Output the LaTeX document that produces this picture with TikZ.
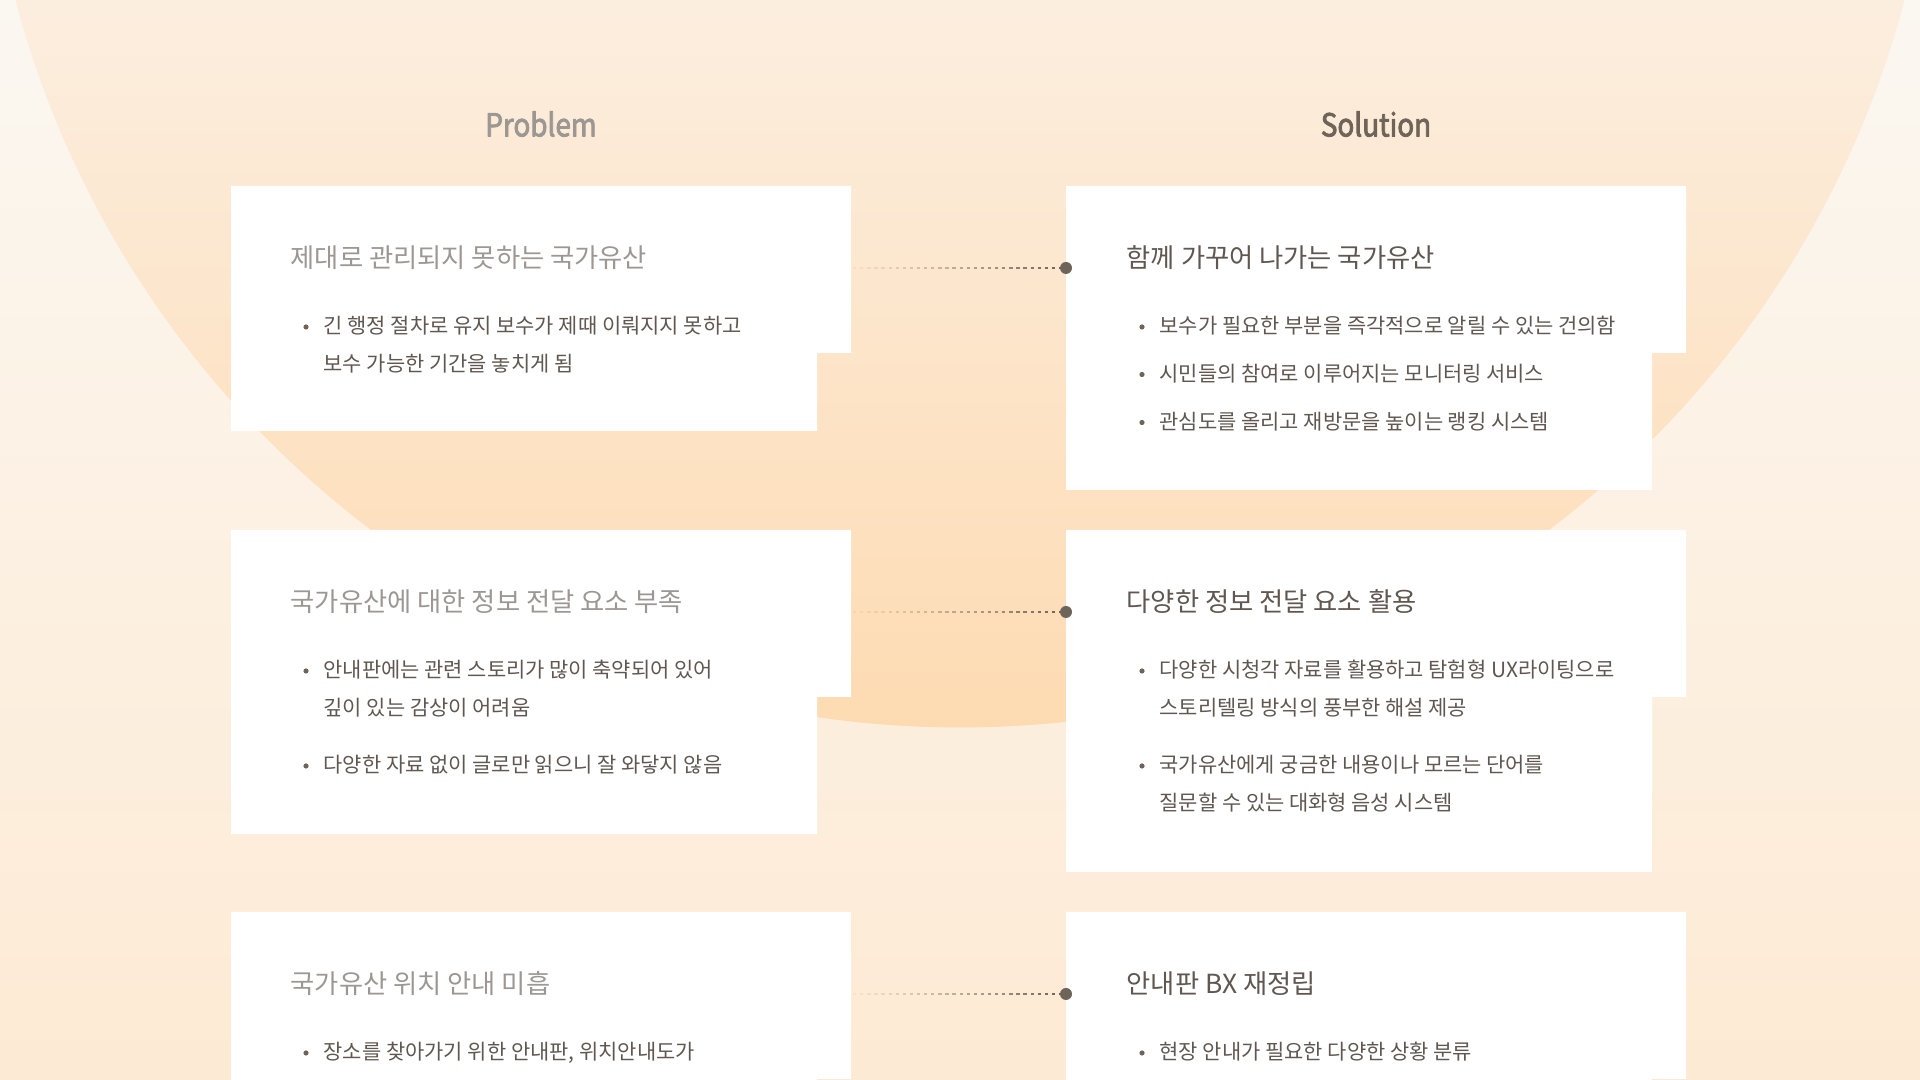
\documentclass[tikz,border=0pt]{standalone}
\usepackage{fontspec}
\setmainfont{Noto Sans CJK KR}
\newfontfamily\headfont[FakeStretch=0.88, FakeBold=2.5]{Noto Sans CJK KR}
\usetikzlibrary{calc}

% colores
\definecolor{bgtop}{HTML}{FBF7F1}
\definecolor{bgbottom}{HTML}{FDEAD4}
\definecolor{suntop}{HTML}{FCEEDF}
\definecolor{sunbottom}{HTML}{FDDBB2}
\definecolor{inkdark}{HTML}{5F5750}
\definecolor{inkgray}{HTML}{9C9793}
\definecolor{inkhead}{HTML}{6E6459}

% tarjeta blanca con escalon abajo a la derecha: x, arriba, abajo
\newcommand{\notchcard}[3]{%
  \fill[white] (#1,#2) -- ++(620,0) -- ++(0,167) -- ++(-34,0) |- (#1,#3) -- cycle;}
% punto de la lista: nodo, distancia de la ultima linea a la primera
\newcommand{\bulletat}[2]{%
  \fill[itemdot] ($(#1.base west)+(-17,-7-#2)$) circle (2.6);}

\begin{document}
\begin{tikzpicture}[x=0.01cm, y=-0.01cm, line join=round]
  % Estilos
  \tikzset{
    headtext/.style={inner sep=0, font=\headfont\fontsize{9pt}{10pt}\selectfont},
    cardtitle/.style={anchor=base west, inner sep=0, font=\fontsize{7.48pt}{9pt}\selectfont},
    itemtext/.style={anchor=base west, inner sep=0, align=left, text=inkdark,
      font=\fontsize{5.95pt}{10.81pt}\selectfont},
    itemdot/.style={fill=inkhead},
    linkdash/.style={line width=0.68pt, draw=inkhead},
  }

  \useasboundingbox (0,0) rectangle (1920,1080);
  \clip (0,0) rectangle (1920,1080);

  % Fondo y circulo
  \shade[top color=bgtop, bottom color=bgbottom] (0,0) rectangle (1920,1080);
  \begin{scope}
    \clip (960,-249) circle (976.5);
    \shade[top color=suntop, bottom color=sunbottom] (0,0) rectangle (1920,728);
  \end{scope}

  % Encabezados
  \node[headtext, text=inkgray] (problem) at (541,124) {Problem};
  \node[headtext, text=inkhead] (solution) at (1376,124) {Solution};

  % Tarjetas
  \notchcard{231}{186}{431}
  \notchcard{1066}{186}{490}
  \notchcard{231}{530}{834}
  \notchcard{1066}{530}{872}
  \notchcard{231}{912}{1120}
  \notchcard{1066}{912}{1120}

  % Fila 1
  \node[cardtitle, text=inkgray] (p1) at (290,268) {제대로 관리되지 못하는 국가유산};
  \node[itemtext] (p1a) at (323,372) {긴 행정 절차로 유지 보수가 제때 이뤄지지 못하고\\보수 가능한 기간을 놓치게 됨};
  \node[cardtitle, text=inkdark] (s1) at (1126,268) {함께 가꾸어 나가는 국가유산};
  \node[itemtext] (s1a) at (1159,334) {보수가 필요한 부분을 즉각적으로 알릴 수 있는 건의함};
  \node[itemtext] (s1b) at (1159,381.5) {시민들의 참여로 이루어지는 모니터링 서비스};
  \node[itemtext] (s1c) at (1159,429.5) {관심도를 올리고 재방문을 높이는 랭킹 시스템};

  % Fila 2
  \node[cardtitle, text=inkgray] (p2) at (290,612) {국가유산에 대한 정보 전달 요소 부족};
  \node[itemtext] (p2a) at (323,716) {안내판에는 관련 스토리가 많이 축약되어 있어\\깊이 있는 감상이 어려움};
  \node[itemtext] (p2b) at (323,773) {다양한 자료 없이 글로만 읽으니 잘 와닿지 않음};
  \node[cardtitle, text=inkdark] (s2) at (1126,612) {다양한 정보 전달 요소 활용};
  \node[itemtext] (s2a) at (1159,716) {다양한 시청각 자료를 활용하고 탐험형 UX라이팅으로\\스토리텔링 방식의 풍부한 해설 제공};
  \node[itemtext] (s2b) at (1159,811) {국가유산에게 궁금한 내용이나 모르는 단어를\\질문할 수 있는 대화형 음성 시스템};

  % Fila 3
  \node[cardtitle, text=inkgray] (p3) at (290,994) {국가유산 위치 안내 미흡};
  \node[itemtext] (p3a) at (323,1060) {장소를 찾아가기 위한 안내판, 위치안내도가};
  \node[cardtitle, text=inkdark] (s3) at (1126,994) {안내판 BX 재정립};
  \node[itemtext] (s3a) at (1159,1060) {현장 안내가 필요한 다양한 상황 분류};

  % Puntos de lista
  \foreach \n/\up in {p1a/38, s1a/0, s1b/0, s1c/0, p2a/38, p2b/0, s2a/38, s2b/38, p3a/0, s3a/0} {
    \bulletat{\n}{\up}
  }

  % Conectores punteados que se desvanecen hacia la izquierda
  \foreach \r/\yy in {1/268, 2/612, 3/994} {
    \coordinate (p\r e) at (853,\yy);
    \coordinate (s\r w) at (1066,\yy);
    \foreach \k [evaluate=\k as \op using 0.06+0.94*(\k/29)^1.2] in {0,...,29}
      \draw[linkdash, opacity=\op] ($(p\r e)!\k/30!(s\r w)$) -- ++(3.3,0);
    \fill[inkhead] (s\r w) circle (6);
  }

\end{tikzpicture}
\end{document}
